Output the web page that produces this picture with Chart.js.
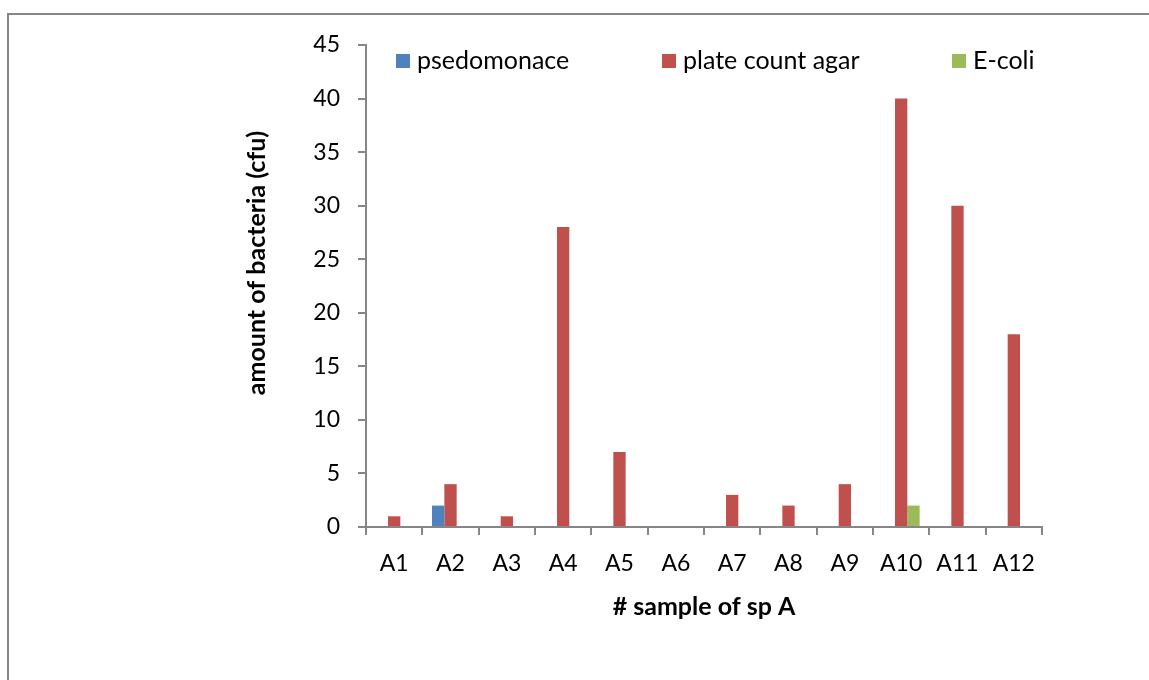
<!DOCTYPE html>
<html><head><meta charset="utf-8">
<script src="https://cdn.jsdelivr.net/npm/chart.js@4/dist/chart.umd.min.js"></script>
<style>
html,body{margin:0;padding:0;background:#fff;}
#wrap{position:relative;width:1149px;height:680px;overflow:hidden;}
#frame{position:absolute;left:7px;top:13px;width:1300px;height:800px;border-left:2px solid #868686;border-top:2px solid #868686;}
canvas{position:absolute;left:0;top:0;}
</style></head><body>
<div id="wrap"><div id="frame"></div><canvas id="c" width="1149" height="680"></canvas></div>
<script>
const categories = ['A1','A2','A3','A4','A5','A6','A7','A8','A9','A10','A11','A12'];
const seriesNames = ['psedomonace','plate count agar','E-coli'];
const pseudomonas = [0,2,0,0,0,0,0,0,0,0,0,0];
const plateCount = [1,4,1,28,7,0,3,2,4,40,30,18];
const ecoli = [0,0,0,0,0,0,0,0,0,2,0,0];
const yMin = 0, yMax = 45, yStep = 5;
const xTitle = '# sample of sp A';
const yTitle = 'amount of bacteria (cfu)';

const colors = ['#4F81BD','#C0504D','#9BBB59'];
const FONT = 'Lato';
const AXIS = '#868686';

const legendX = [396, 662, 952];

const customDraw = {
  id: 'customDraw',
  afterDraw(chart) {
    const ctx = chart.ctx;
    ctx.save();
    // legend
    ctx.font = '25px ' + FONT;
    ctx.textBaseline = 'middle';
    ctx.textAlign = 'left';
    chart.data.datasets.forEach((ds, i) => {
      ctx.fillStyle = ds.backgroundColor;
      ctx.fillRect(legendX[i], 54, 14, 14);
      ctx.fillStyle = '#000';
      ctx.fillText(ds.label, legendX[i] + 21, 61);
    });
    // y title
    ctx.font = 'bold 25px ' + FONT;
    ctx.translate(257, 263);
    ctx.rotate(-Math.PI/2);
    ctx.textAlign = 'center';
    ctx.fillText(yTitle, 0, 0);
    ctx.restore();
  }
};

new Chart(document.getElementById('c'), {
  type: 'bar',
  data: {
    labels: categories,
    datasets: [
      {label: seriesNames[0], data: pseudomonas, backgroundColor: colors[0]},
      {label: seriesNames[1], data: plateCount, backgroundColor: colors[1]},
      {label: seriesNames[2], data: ecoli, backgroundColor: colors[2]}
    ]
  },
  options: {
    responsive: false,
    animation: false,
    devicePixelRatio: 1,
    layout: {padding: {left: 240, top: 45, right: 107, bottom: 58}},
    datasets: {bar: {categoryPercentage: 0.656, barPercentage: 1, borderWidth: 0}},
    plugins: {legend: {display: false}, tooltip: {enabled: false}},
    scales: {
      x: {
        grid: {display: true, drawOnChartArea: false, offset: true, tickLength: 8, color: AXIS, lineWidth: 2},
        border: {color: AXIS, width: 2},
        ticks: {font: {family: FONT, size: 23}, color: '#000', padding: 15, maxRotation: 0, autoSkip: false},
        title: {display: true, text: xTitle, color: '#000', font: {family: FONT, size: 25, weight: 'bold'}, padding: {top: 2, bottom: 0}},
        afterFit(s) { s.height = 95; }
      },
      y: {
        min: yMin, max: yMax,
        grid: {display: true, drawOnChartArea: false, tickLength: 8, color: AXIS, lineWidth: 2},
        border: {color: AXIS, width: 2},
        ticks: {stepSize: yStep, font: {family: FONT, size: 23}, color: '#000', padding: 18},
        afterFit(s) { s.width = 126; }
      }
    }
  },
  plugins: [customDraw]
});
</script>
</body></html>
